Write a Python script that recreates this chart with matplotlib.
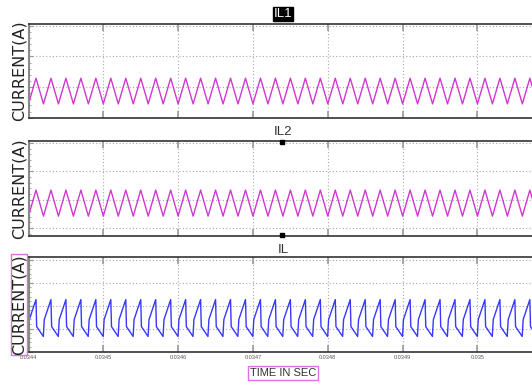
import numpy as np
import matplotlib
matplotlib.use("Agg")
import matplotlib.pyplot as plt
from matplotlib.lines import Line2D
from matplotlib import font_manager

plt.rcParams.update({
    'font.family': ['Liberation Sans Narrow', 'Liberation Sans', 'DejaVu Sans'],
})

# time axis (seconds)
t_start = 0.0344
t_end = 0.03508
period = 2e-5
xtick_vals = [0.0344, 0.0345, 0.0346, 0.0347, 0.0348, 0.0349, 0.0350]
xtick_labels = ['0.0344', '0.0345', '0.0346', '0.0347', '0.0348', '0.0349', '0.035']

# one switching period of each current (phase 0..1, amps)
il1_phase = [0.0, 0.5, 1.0]
il1_shape = [0.45, 1.29, 0.45]
il1_t0 = 0.0344

il2_phase = [0.0, 0.5, 1.0]
il2_shape = [0.42, 1.34, 0.42]
il2_t0 = 0.0344

il_phase = [0.0, 0.045, 0.49, 0.555, 1.0]
il_shape = [2.27, 1.09, 0.66, 1.40, 2.27]
il_t0 = 0.03439

titles = ['IL1', 'IL2', 'IL']
ylims = [(-0.01, 3.06), (-0.28, 3.07), (-0.02, 4.13)]
yticks = [[0, 1, 2, 3], [0, 1, 2, 3], [0, 1, 2, 3, 4]]
colors = ['#cc22cc', '#cc22cc', '#2222ff']

names = {f.name for f in font_manager.fontManager.ttflist}
narrow = 'Liberation Sans Narrow' in names


def repeat_period(t0, phase, shape):
    '''Repeat a single measured period over the visible window'''
    n = int(np.ceil((t_end - t0) / period)) + 1
    t, y = [], []
    for k in range(n):
        for p, v in zip(phase[:-1], shape[:-1]):
            t.append(t0 + (k + p) * period)
            y.append(v)
    t.append(t0 + n * period)
    y.append(shape[-1])
    return np.array(t), np.array(y)


series = [repeat_period(il1_t0, il1_phase, il1_shape),
          repeat_period(il2_t0, il2_phase, il2_shape),
          repeat_period(il_t0, il_phase, il_shape)]

fig = plt.figure(figsize=(5.32, 3.87), dpi=100)
W, H = 532.0, 387.0
# (top, bottom) pixel rows of each panel
rows = [(24, 118), (141, 236), (257, 352)]
left_px = 28.5

axes = []
for i, (top, bot) in enumerate(rows):
    ax = fig.add_axes([left_px / W, 1 - bot / H, 1.01 - left_px / W, (bot - top) / H])
    t, y = series[i]
    ax.plot(t, y, color=colors[i], lw=1.0, alpha=0.9)
    ax.set_xlim(t_start, t_end)
    ax.set_ylim(*ylims[i])
    ax.set_xticks(xtick_vals)
    ax.set_yticks(yticks[i])
    ax.yaxis.set_minor_locator(matplotlib.ticker.AutoMinorLocator(5))
    ax.grid(True, which='major', color='#a8a8a8', linestyle=(0, (1, 2)), lw=0.8)
    ax.tick_params(axis='both', which='both', direction='in', color='#999999')
    ax.tick_params(axis='x', which='major', length=5, width=1.2, top=True, bottom=True)
    ax.tick_params(axis='y', which='major', length=3, labelleft=False)
    ax.tick_params(axis='y', which='minor', length=1.5)
    if i < 2:
        ax.tick_params(axis='x', labelbottom=False)
    else:
        ax.set_xticklabels(xtick_labels, fontsize=4, color='#555555')
        ax.tick_params(axis='x', pad=2)
    for side in ['top', 'bottom']:
        ax.spines[side].set_color('#333333')
        ax.spines[side].set_linewidth(1.2)
    ax.spines['left'].set_color('#888888')
    ax.spines['left'].set_linewidth(1.5)
    ax.spines['right'].set_visible(False)

    bbox = None
    if i == 2:
        bbox = dict(facecolor='none', edgecolor='#e070e0', pad=0.5, lw=1)
    ax.set_ylabel('CURRENT(A)', fontsize=11.5, family=['DejaVu Sans'], color='#222222',
                  labelpad=-2, bbox=bbox)
    axes.append(ax)

# panel titles
title_size = 10.5 if narrow else 9.5
axes[0].set_title('IL1', fontsize=title_size, color='white', pad=5,
                  bbox=dict(facecolor='black', edgecolor='black', pad=0.5))
axes[1].set_title('IL2', fontsize=title_size, color='#333333', pad=4)
axes[2].set_title('IL', fontsize=title_size, color='#333333', pad=3)

# selection handles around the IL2 title
for py in [141.5, 234.5]:
    fig.add_artist(Line2D([281.5 / W], [1 - py / H], marker='s', ms=3.5,
                          color='black', transform=fig.transFigure))

axes[2].set_xlabel('TIME IN SEC', fontsize=9.5 if narrow else 8, color='#333333',
                   labelpad=6,
                   bbox=dict(facecolor='none', edgecolor='#e070e0', pad=1.5, lw=1))

fig.savefig('out.png', dpi=100)
